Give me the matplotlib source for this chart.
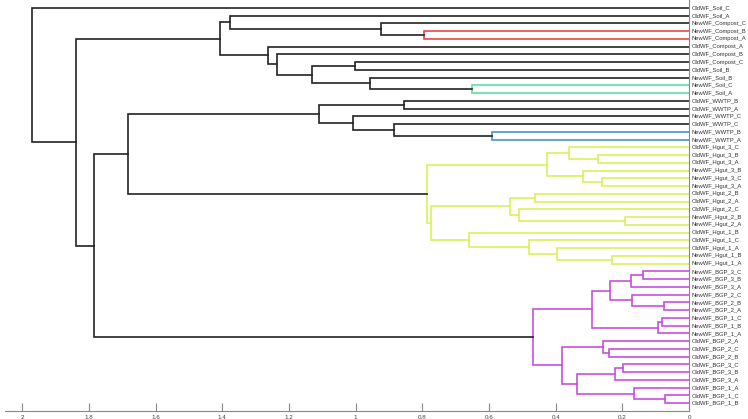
import numpy as np
import matplotlib
matplotlib.use("Agg")
import matplotlib.pyplot as plt

# leaf labels, top to bottom
labels = ["OldWF_Soil_C", "OldWF_Soil_A", "NewWF_Compost_C", "NewWF_Compost_B",
          "NewWF_Compost_A", "OldWF_Compost_A", "OldWF_Compost_B", "OldWF_Compost_C",
          "OldWF_Soil_B", "NewWF_Soil_B", "NewWF_Soil_C", "NewWF_Soil_A",
          "OldWF_WWTP_B", "OldWF_WWTP_A", "NewWF_WWTP_C", "OldWF_WWTP_C",
          "NewWF_WWTP_B", "NewWF_WWTP_A",
          "OldWF_Hgut_3_C", "OldWF_Hgut_3_B", "OldWF_Hgut_3_A",
          "NewWF_Hgut_3_B", "NewWF_Hgut_3_C", "NewWF_Hgut_3_A",
          "OldWF_Hgut_2_B", "OldWF_Hgut_2_A", "OldWF_Hgut_2_C",
          "NewWF_Hgut_2_B", "NewWF_Hgut_2_A",
          "OldWF_Hgut_1_B", "OldWF_Hgut_1_C", "OldWF_Hgut_1_A",
          "NewWF_Hgut_1_B", "NewWF_Hgut_1_A",
          "NewWF_BGP_3_C", "NewWF_BGP_3_B", "NewWF_BGP_3_A",
          "NewWF_BGP_2_C", "NewWF_BGP_2_B", "NewWF_BGP_2_A",
          "NewWF_BGP_1_C", "NewWF_BGP_1_B", "NewWF_BGP_1_A",
          "OldWF_BGP_2_A", "OldWF_BGP_2_C", "OldWF_BGP_2_B",
          "OldWF_BGP_3_C", "OldWF_BGP_3_B", "OldWF_BGP_3_A",
          "OldWF_BGP_1_A", "OldWF_BGP_1_C", "OldWF_BGP_1_B"]
n = len(labels)

# merges like a linkage matrix: ids < n are leaves, id n+k is merge k
left_ids = [3, 2, 1, 10, 9, 7, 57, 6, 5, 54,
            16, 15, 14, 12, 65,
            19, 18, 22, 21, 68, 24, 27, 26, 72, 32, 31, 30, 29, 75, 71,
            34, 82, 38, 37, 83, 40, 87, 86, 44, 43, 46, 92, 50, 49, 93, 91, 89,
            66, 99, 61, 0]
right_ids = [4, 52, 53, 11, 55, 8, 56, 58, 59, 60,
             17, 62, 63, 13, 64,
             20, 67, 23, 69, 70, 25, 28, 73, 74, 33, 76, 77, 78, 79, 80,
             35, 36, 39, 84, 85, 41, 42, 88, 45, 90, 47, 48, 51, 94, 95, 96, 97,
             81, 98, 100, 101]
heights = [0.795, 0.924, 1.377, 0.651, 0.957, 1.002, 1.131, 1.236, 1.264, 1.407,
           0.592, 0.886, 1.009, 0.855, 1.110,
           0.272, 0.359, 0.260, 0.317, 0.426, 0.463, 0.193, 0.510, 0.536,
           0.230, 0.397, 0.481, 0.661, 0.774, 0.787,
           0.137, 0.173, 0.075, 0.172, 0.238, 0.080, 0.094, 0.290,
           0.240, 0.259, 0.199, 0.222, 0.073, 0.164, 0.335, 0.382, 0.469,
           1.682, 1.785, 1.840, 1.971]

# coloured clusters: merge id -> colour (all merges below it share it)
cluster_roots = {52: "#e8474f", 55: "#57e39d", 62: "#4a8fd9",
                 81: "#dcf15b", 98: "#c84fe0"}
xticks = [2, 1.8, 1.6, 1.4, 1.2, 1, 0.8, 0.6, 0.4, 0.2, 0]

ypos = {i: i + 1 for i in range(n)}
hgt = {i: 0.0 for i in range(n)}
for k in range(len(heights)):
    a, b = left_ids[k], right_ids[k]
    ypos[n + k] = (ypos[a] + ypos[b]) / 2
    hgt[n + k] = heights[k]

colour = {}
def paint(node, c):
    colour[node] = c
    if node >= n:
        paint(left_ids[node - n], c)
        paint(right_ids[node - n], c)
for root, c in cluster_roots.items():
    paint(root, c)

fig = plt.figure(figsize=(7.48, 4.19), dpi=100)
ax = fig.add_axes([5 / 748, 8 / 419, 684 / 748, 411 / 419])

for k in range(len(heights)):
    a, b = left_ids[k], right_ids[k]
    c = colour.get(n + k, "#222222")
    h = heights[k]
    ax.plot([hgt[a], h, h, hgt[b]], [ypos[a], ypos[a], ypos[b], ypos[b]],
            color=c, lw=1.2, solid_joinstyle="miter")

ax.set_xlim(2.052, 0)
ax.set_ylim(n + 1, 0)
ax.set_xticks(xticks)
ax.set_xticklabels([f"{t:g}" for t in xticks])
ax.set_yticks([])
for s in ["top", "left"]:
    ax.spines[s].set_visible(False)
for s in ["bottom", "right"]:
    ax.spines[s].set_color("#888888")
    ax.spines[s].set_linewidth(0.8)
ax.tick_params(axis="x", direction="in", length=6, width=0.8, color="#888888",
               labelsize=4.5, labelcolor="#444444", pad=3)
for lab in ax.get_xticklabels():
    lab.set_family("Liberation Sans")

for i in range(n):
    ax.text(-0.009, ypos[i], labels[i], ha="left", va="center",
            fontsize=4.2, color="#333333", family="Liberation Sans",
            clip_on=False)

fig.savefig("out.png", dpi=100)
